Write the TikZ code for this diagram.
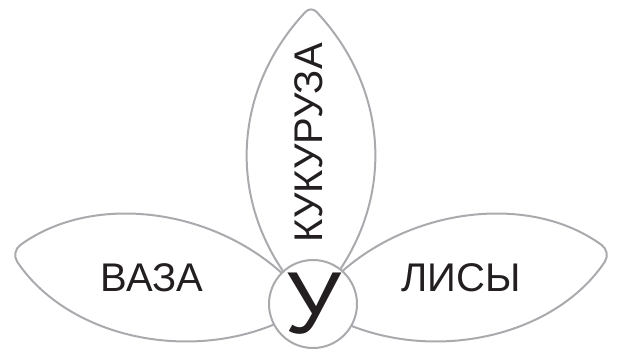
\documentclass[tikz,border=0pt]{standalone}
\usepackage{fontspec}
\setmainfont{Liberation Sans}
\definecolor{leafgray}{RGB}{170,170,174}
\definecolor{inkblack}{RGB}{35,31,32}
\begin{document}
\begin{tikzpicture}[x=1pt,y=1pt,line join=round,line cap=round,
	leaf/.style={draw=leafgray,line width=2pt},
	word/.style={text=inkblack,inner sep=0pt,font=\fontsize{40}{40}\selectfont}]
	\useasboundingbox (0,0) rectangle (620,351);
	\def\cx{311} \def\cy{46} % center of the flower
	% petals: angle/length/bulge/control/rounding
	\foreach \g/\l/\h/\k/\r in {90/299/84/0.7/8,170/305/79/0.75/12,10/305/79/0.75/12}
	\draw[leaf,rounded corners=\r pt,shift={(\cx,\cy)},rotate=\g] (0,0) .. controls (0.3*\l,\h) and (\k*\l,\h) .. (\l,0)
		.. controls (\k*\l,-\h) and (0.3*\l,-\h) .. (0,0) -- cycle;
	\node[circle,leaf,fill=white,minimum size=88pt,inner sep=0pt,text=inkblack,
		font=\fontsize{88}{88}\selectfont] (u) at (313,47) {У};
	\node[word] (vaza) at (152,73) {ВАЗА};
	\node[word] (lisy) at (461,73) {ЛИСЫ};
	\node[word,rotate=90] (kukuruza) at (309,208) {КУКУРУЗА};
\end{tikzpicture}
\end{document}
